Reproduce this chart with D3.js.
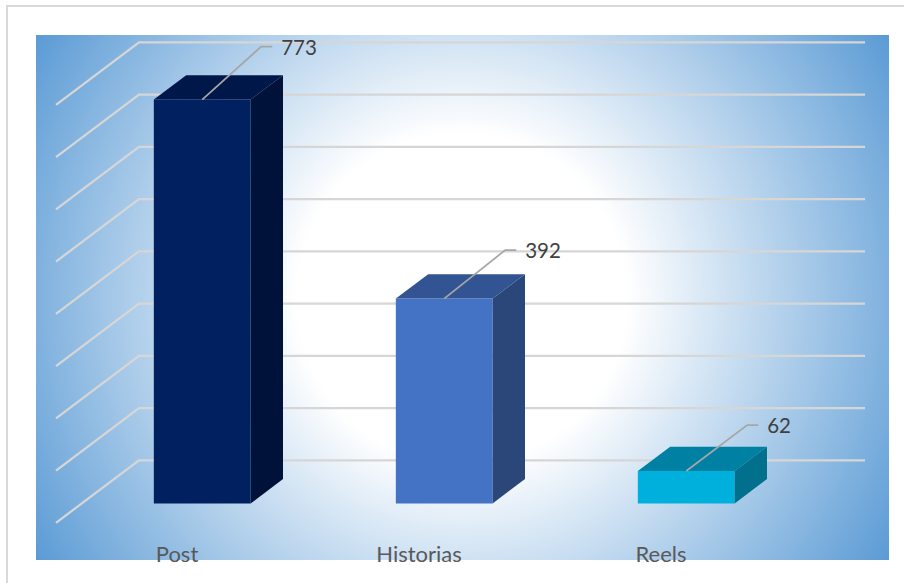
<!DOCTYPE html>
<html>
<head>
<meta charset="utf-8">
<script src="https://cdn.jsdelivr.net/npm/d3@7"></script>
<style>
  html, body { margin: 0; padding: 0; background: #fff; }
  svg { display: block; }
  text { font-family: Lato, "Open Sans", sans-serif; }
</style>
</head>
<body>
<svg class="chart"></svg>
<script>
var categories = ["Post", "Historias", "Reels"];
var values = [773, 392, 62];
var gridValues = [0, 100, 200, 300, 400, 500, 600, 700, 800];
var barColors = ["#002060", "#4472C4", "#00B0DC"];
var topColors = ["#00174A", "#325492", "#0080A3"];
var sideColors = ["#00123A", "#2B4779", "#00708C"];

var width = 904, height = 583;

var svg = d3.select('.chart')
  .attr("width", width)
  .attr("height", height);

// back wall of the 3d box
var x = d3.scaleBand().domain(categories).range([139, 865]);
var y = d3.scaleLinear().domain([0, 800]).range([460.3, 42.3]);

// depth: 0 is the back wall, 1 the front edge of the side wall
var depthX = d3.scaleLinear().domain([0, 1]).range([0, -83]);
var depthY = d3.scaleLinear().domain([0, 1]).range([0, 62.5]);
var barBack = 0.3, barFront = 0.69;
var barWidth = x.bandwidth() * 0.4;

function pt(px, v, d) {
  return [px + depthX(d), y(v) + depthY(d)];
}
var line = d3.line();

var defs = svg.append("defs");
var bg = defs.append("radialGradient").attr("id", "bg")
  .attr("gradientUnits", "userSpaceOnUse")
  .attr("cx", 462).attr("cy", 298).attr("r", 500);
bg.append("stop").attr("offset", 0.33).attr("stop-color", "#ffffff");
bg.append("stop").attr("offset", 1).attr("stop-color", "#5B9BD5");

// outer frame
svg.append("rect").attr("x", 7).attr("y", 6).attr("width", 940).attr("height", 620)
  .attr("fill", "#fff").attr("stroke", "#d9d9d9").attr("stroke-width", 2);

svg.append("rect").attr("x", 36).attr("y", 35).attr("width", 853).attr("height", 525)
  .attr("fill", "url(#bg)");

// gridlines, side wall + back wall
svg.append("g").selectAll("path").data(gridValues).enter().append("path")
  .attr("d", function(d) {
    return line([pt(x.range()[0], d, 1), pt(x.range()[0], d, 0), pt(x.range()[1], d, 0)]);
  })
  .attr("fill", "none")
  .attr("stroke", "#d6d6d6")
  .attr("stroke-width", 2.25);

var bars = svg.append("g").selectAll("g").data(categories).enter().append("g");

function left(c) { return x(c) + x.bandwidth() / 2 - barWidth / 2 - 0.5; }
function right(c) { return left(c) + barWidth; }

// front face
bars.append("path")
  .attr("d", function(c, i) {
    return line([pt(left(c), 0, barFront), pt(right(c), 0, barFront),
      pt(right(c), values[i], barFront), pt(left(c), values[i], barFront)]) + "Z";
  })
  .attr("fill", function(c, i) { return barColors[i]; });

// top face
bars.append("path")
  .attr("d", function(c, i) {
    return line([pt(left(c), values[i], barFront), pt(right(c), values[i], barFront),
      pt(right(c), values[i], barBack), pt(left(c), values[i], barBack)]) + "Z";
  })
  .attr("fill", function(c, i) { return topColors[i]; });

// side face
bars.append("path")
  .attr("d", function(c, i) {
    return line([pt(right(c), 0, barFront), pt(right(c), 0, barBack),
      pt(right(c), values[i], barBack), pt(right(c), values[i], barFront)]) + "Z";
  })
  .attr("fill", function(c, i) { return sideColors[i]; });

// leader lines and value labels, each label was dragged by hand in the original
var leaderDx = [59, 61, 61], leaderDy = [53, 48.5, 46], leaderRun = 11;
function anchor(c, i) { return pt(x(c) + x.bandwidth() / 2 - 0.5, values[i], barFront); }

var labels = svg.append("g").selectAll("g").data(categories).enter().append("g");

labels.append("path")
  .attr("d", function(c, i) {
    var p = anchor(c, i);
    return line([p, [p[0] + leaderDx[i], p[1] - leaderDy[i]], [p[0] + leaderDx[i] + leaderRun, p[1] - leaderDy[i]]]);
  })
  .attr("fill", "none")
  .attr("stroke", "#a6a6a6")
  .attr("stroke-width", 1.75);

labels.append("text")
  .attr("x", function(c, i) { return anchor(c, i)[0] + leaderDx[i] + leaderRun + 9; })
  .attr("y", function(c, i) { return anchor(c, i)[1] - leaderDy[i] + 8; })
  .attr("font-size", 20.5)
  .attr("fill", "#404040")
  .text(function(c, i) { return values[i]; });

// category axis, shifted to the front of the box
var axis = svg.append("g")
  .attr("transform", "translate(" + depthX(1) + "," + 562 + ")")
  .call(d3.axisBottom(x).tickSize(0).tickPadding(0));
axis.select(".domain").remove();
axis.selectAll("text")
  .attr("y", 0).attr("dy", 0)
  .attr("font-size", 22)
  .style("font-family", "Lato, 'Open Sans', sans-serif")
  .attr("fill", "#595959");
</script>
</body>
</html>
